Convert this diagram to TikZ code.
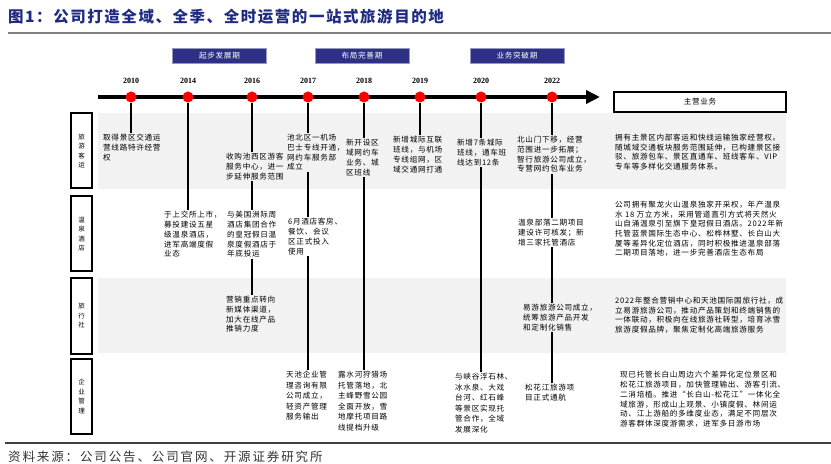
\documentclass[tikz,border=0pt]{standalone}
\usepackage{fontspec}
\setmainfont{Liberation Serif}
\newfontfamily\cjk[LetterSpace=9]{Noto Sans CJK SC}
\newfontfamily\cjktitle[LetterSpace=10]{Noto Sans CJK SC}
\newfontfamily\cjksrc[LetterSpace=15]{Noto Sans CJK SC}
\usetikzlibrary{arrows.meta}

\definecolor{titleblue}{HTML}{1F2A80}
\definecolor{phaseblue}{HTML}{2E3086}
\definecolor{bandgray}{HTML}{F2F2F2}
\definecolor{dotred}{HTML}{FF0000}

\newcommand{\evtfont}{\cjk\fontsize{7.6bp}{9.8bp}\selectfont}
\newcommand{\bizfont}{\cjk\fontsize{7.6bp}{9.6bp}\selectfont}

\tikzset{
  evt/.style = {anchor = north west, inner sep = 1bp, align = left,
    font = \evtfont},
  biz/.style = {evt, font = \bizfont},
  yr/.style = {font = \bfseries\fontsize{8bp}{9bp}\selectfont},
  yrdot/.style = {circle, fill = dotred, inner sep = 0, minimum size = 11bp},
  phasebox/.style = {fill = phaseblue, draw = phaseblue!50, text = white,
    minimum width = 94bp, minimum height = 15bp, inner sep = 0,
    font = \evtfont},
  rowlab/.style = {draw, line width = 2bp, fill = white,
    minimum width = 21bp, minimum height = 75bp, inner sep = 0,
    align = center, font = \cjk\fontsize{6.5bp}{9.5bp}\selectfont},
  vline/.style = {line width = 1.5bp}
}

\begin{document}
\begin{tikzpicture}[x = 1bp, y = -1bp]
  \useasboundingbox (0, 0) rectangle (831, 464);

  % title and rules
  \node[anchor = west, inner sep = 0, text = titleblue,
    font = \cjktitle\bfseries\fontsize{15.5bp}{17bp}\selectfont]
    (title) at (8, 17) {图1：公司打造全域、全季、全时运营的一站式旅游目的地};
  \draw[gray, line width = 1.5bp] (8, 33) -- (831, 33);
  \draw[black!75, line width = 1.5bp] (5, 443) -- (831, 443);
  \node[anchor = west, inner sep = 0, text = black!80,
    font = \cjksrc\fontsize{12.5bp}{14bp}\selectfont]
    (source) at (8, 457) {资料来源：公司公告、公司官网、开源证券研究所};

  % grey bands
  \fill[bandgray] (98, 113) rectangle (786, 189);
  \fill[bandgray] (98, 278) rectangle (786, 353);

  % phases
  \node[phasebox] (ph1) at (219.5, 55.5) {起步发展期};
  \node[phasebox] (ph2) at (362, 55.5) {布局完善期};
  \node[phasebox] (ph3) at (517, 56) {业务突破期};

  % timeline
  \coordinate (tlstart) at (98, 97);
  \coordinate (tlend) at (600, 97);
  \draw[line width = 4bp, -{Triangle[length = 14bp, width = 13bp]}]
    (tlstart) -- (tlend);

  \foreach \yy/\xx in {2010/131, 2014/188, 2016/252, 2017/308,
    2018/364, 2019/420, 2020/481, 2022/552} {
    \node[yr] (yl\yy) at (\xx, 81) {\yy};
    \node[yrdot] (d\yy) at (\xx, 97) {};
  }

  % row labels
  \node[rowlab] (lab1) at (81.5, 151) {旅\\游\\客\\运};
  \node[rowlab] (lab2) at (81.5, 234) {温\\泉\\酒\\店};
  \node[rowlab] (lab3) at (81.5, 316) {旅\\行\\社};
  \node[rowlab] (lab4) at (81.5, 396.5) {企\\业\\管\\理};

  \node[draw, line width = 2bp, minimum width = 172bp,
    minimum height = 20bp, inner sep = 0, font = \evtfont]
    (mainhd) at (700, 102) {主营业务};

  % row 1
  \node[evt] (r1y2010) at (102, 133) {取得景区交通运\\营线路特许经营\\权};
  \node[evt] (r1y2016) at (225, 152) {收购池西区游客\\服务中心，进一\\步延伸服务范围};
  \node[evt] (r1y2017) at (286, 133) {池北区一机场\\巴士专线开通，\\网约车服务部\\成立};
  \node[evt] (r1y2018) at (345, 138) {新开设区\\域网约车\\业务、城\\区班线};
  \node[evt] (r1y2019) at (392, 135) {新增城际互联\\班线，与机场\\专线组网，区\\域交通网打通};
  \node[evt] (r1y2020) at (456, 138) {新增7条城际\\班线，通车班\\线达到12条};
  \node[evt] (r1y2022) at (516, 135) {北山门下移，经营\\范围进一步拓展；\\智行旅游公司成立，\\专营网约包车业务};
  \node[biz] (r1main) at (614, 133) {拥有主景区内部客运和快线运输独家经营权。\\
    随城域交通板块服务范围延伸，已构建景区接\\
    驳、旅游包车、景区直通车、班线客车、VIP\\
    专车等多样化交通服务体系。};

  % row 2
  \node[evt] (r2y2014) at (163, 210) {于上交所上市，\\募投建设五星\\级温泉酒店，\\进军高端度假\\业态};
  \node[evt] (r2y2016) at (226, 210) {与美国洲际周\\酒店集团合作\\的皇冠假日温\\泉度假酒店于\\年底投运};
  \node[evt] (r2y2017) at (287, 217) {6月酒店客房、\\餐饮、会议\\区正式投入\\使用};
  \node[evt] (r2y2022) at (517, 218) {温泉部落二期项目\\建设许可核发；新\\增三家托管酒店};
  \node[biz] (r2main) at (614, 200) {公司拥有聚龙火山温泉独家开采权，年产温泉\\
    水 18 万立方米，采用管道直引方式将天然火\\
    山自涌温泉引至旗下皇冠假日酒店。2022年新\\
    托管蓝景国际生态中心、松桦林墅、长白山大\\
    厦等差异化定位酒店，同时积极推进温泉部落\\
    二期项目落地，进一步完善酒店生态布局};

  % row 3
  \node[evt] (r3y2016) at (225, 295) {营销重点转向\\新媒体渠道，\\加大在线产品\\推销力度};
  \node[evt] (r3y2022) at (522, 303) {易游旅游公司成立，\\统筹旅游产品开发\\和定制化销售};
  \node[biz] (r3main) at (614, 296) {2022年整合营销中心和天池国际国旅行社，成\\
    立易游旅游公司，推动产品策划和终端销售的\\
    一体联动，积极向在线旅游社转型，培育冰雪\\
    旅游度假品牌，聚焦定制化高端旅游服务};

  % row 4
  \node[evt, font = \cjk\fontsize{7.6bp}{10.5bp}\selectfont]
    (r4y2017) at (285, 370) {天池企业管\\理咨询有限\\公司成立，\\轻资产管理\\服务输出};
  \node[evt, font = \cjk\fontsize{7.6bp}{10.5bp}\selectfont]
    (r4y2018) at (337, 370) {露水河狩猎场\\托管落地，北\\主峰野雪公园\\全面开放，雪\\地摩托项目路\\线提档升级};
  \node[evt, font = \cjk\fontsize{7.6bp}{10.5bp}\selectfont]
    (r4y2020) at (454, 372) {与峡谷浮石林、\\冰水泉、大戏\\台河、红石峰\\等景区实现托\\管合作，全域\\发展深化};
  \node[evt] (r4y2022) at (524, 383) {松花江旅游项\\目正式通航};
  \node[biz, font = \cjk\fontsize{7.6bp}{9.8bp}\selectfont]
    (r4main) at (619, 370) {现已托管长白山周边六个差异化定位景区和\\
    松花江旅游项目，加快管理输出、游客引流、\\
    二消培植。推进“长白山-松花江”一体化全\\
    域旅游，形成山上观景、小镇度假、林间运\\
    动、江上游船的多维度业态，满足不同层次\\
    游客群体深度游需求，进军多日游市场};

  % drop lines
  \draw[vline] (d2010.south) -- (d2010 |- r1y2010.north);
  \draw[vline] (d2014.south) -- (d2014 |- r2y2014.north);
  \draw[vline] (d2016.south) -- (d2016 |- r1y2016.north);
  \draw[vline] (d2016 |- r1y2016.south) -- (d2016 |- r2y2016.north);
  \draw[vline] (d2016 |- r2y2016.south) -- (d2016 |- r3y2016.north);
  \draw[vline] (d2017.south) -- (d2017 |- r1y2017.north);
  \draw[vline] (d2017 |- r1y2017.south) -- (d2017 |- r2y2017.north);
  \draw[vline] (d2017 |- r2y2017.south) -- (d2017 |- r4y2017.north);
  \draw[vline] (d2018.south) -- (d2018 |- r1y2018.north);
  \draw[vline] (d2018 |- r1y2018.south) -- (d2018 |- r4y2018.north);
  \draw[vline] (d2019.south) -- (d2019 |- r1y2019.north);
  \draw[vline] (d2020.south) -- (d2020 |- r1y2020.north);
  \draw[vline] (d2020 |- r1y2020.south) -- (d2020 |- r4y2020.north);
  \draw[vline] (d2022.south) -- (d2022 |- r1y2022.north);
  \draw[vline] (d2022 |- r1y2022.south) -- (d2022 |- r2y2022.north);
  \draw[vline] (d2022 |- r2y2022.south) -- (d2022 |- r3y2022.north);
  \draw[vline] (d2022 |- r3y2022.south) -- (d2022 |- r4y2022.north);
\end{tikzpicture}
\end{document}
